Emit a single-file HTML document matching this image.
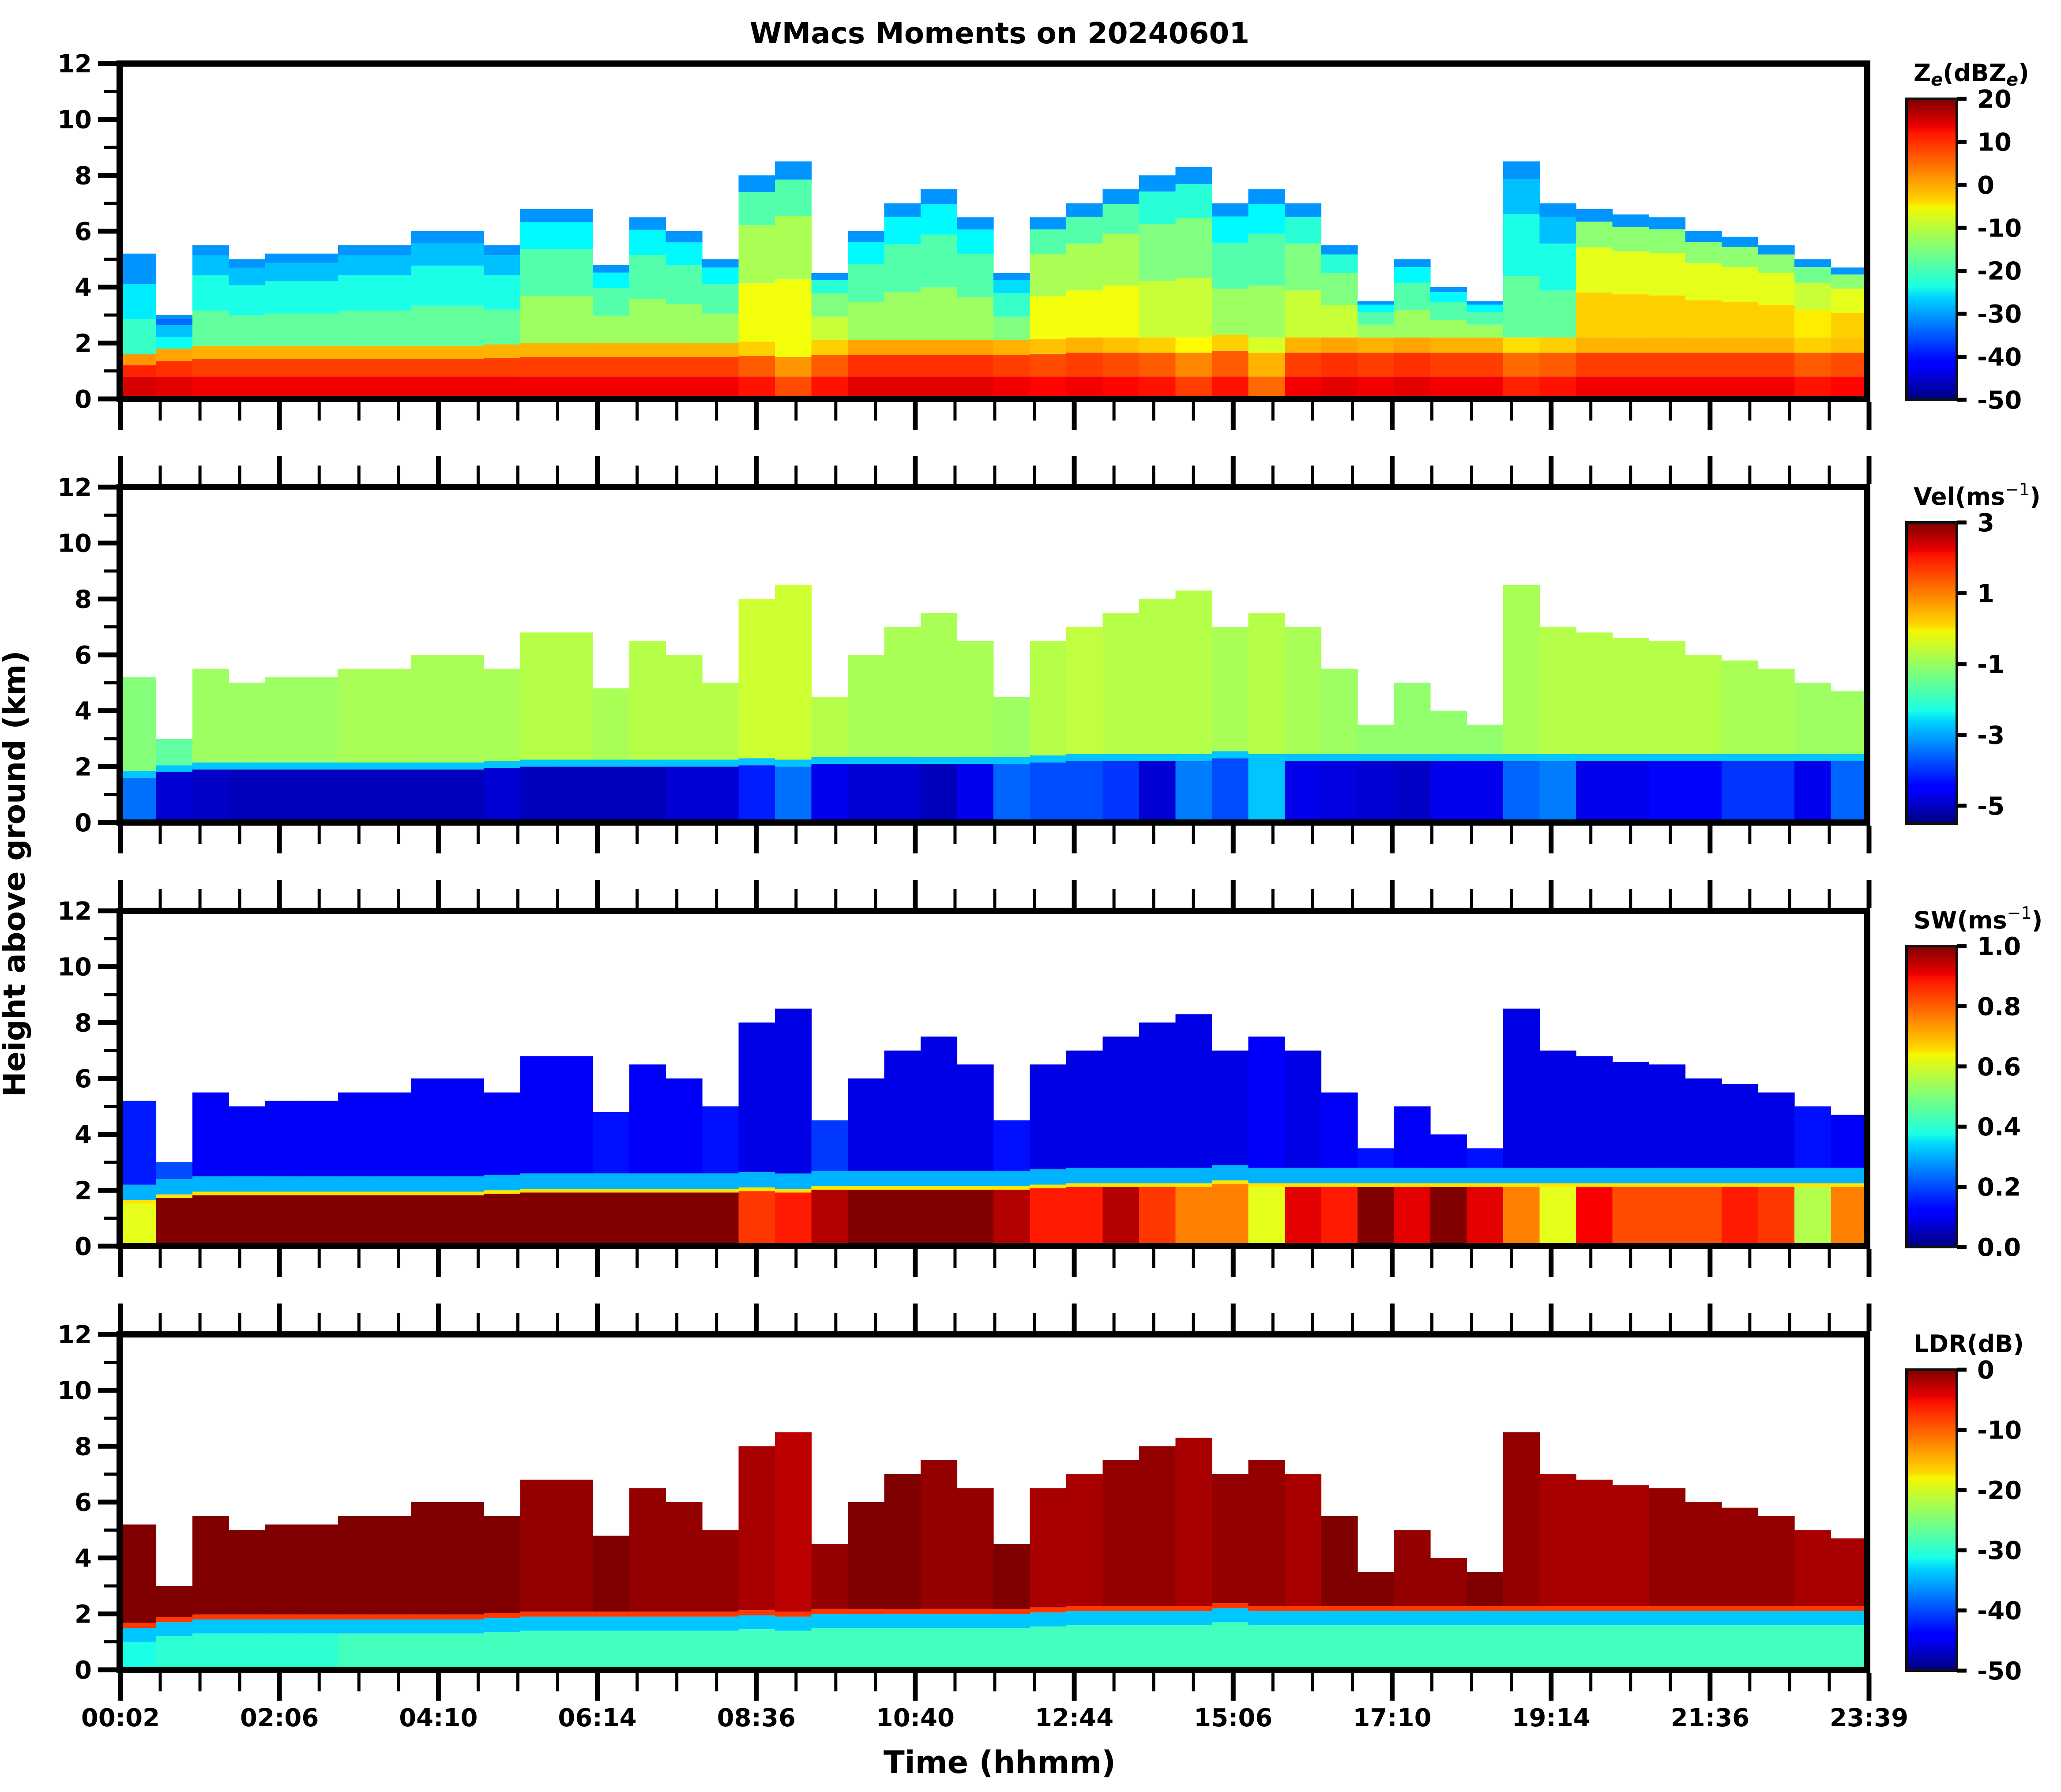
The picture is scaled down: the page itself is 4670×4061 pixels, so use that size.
<!DOCTYPE html>
<html><head><meta charset="utf-8">
<style>
html,body{margin:0;padding:0;background:#fff;}
body{width:4670px;height:4056px;overflow:hidden;}
svg text{font-family:"DejaVu Sans","Liberation Sans",sans-serif;font-weight:bold;fill:#000;}
</style></head>
<body>
<svg id="chart" width="4670" height="4056" viewBox="0 0 4670 4056" xmlns="http://www.w3.org/2000/svg">
<defs>
<linearGradient id="jet" x1="0" y1="1" x2="0" y2="0">
<stop offset="0" stop-color="#00007f"/><stop offset="0.11" stop-color="#0000ff"/>
<stop offset="0.125" stop-color="#0000ff"/><stop offset="0.34" stop-color="#00d4ff"/>
<stop offset="0.375" stop-color="#1affe4"/><stop offset="0.5" stop-color="#7dff7a"/>
<stop offset="0.64" stop-color="#f4f802"/><stop offset="0.66" stop-color="#ffd700"/>
<stop offset="0.89" stop-color="#ff1300"/><stop offset="0.91" stop-color="#e80000"/>
<stop offset="1" stop-color="#7f0000"/>
</linearGradient>
</defs>
<text x="2265" y="98" font-size="66" text-anchor="middle">WMacs Moments on 20240601</text>
<text x="0" y="0" font-size="68" text-anchor="middle" transform="translate(56,1980) rotate(-90)">Height above ground (km)</text>
<text x="2265" y="4018" font-size="70" text-anchor="middle">Time (hhmm)</text>
</svg>
<script>
// ---- data (48 half-hour bins) ----
const xTickLabels = ["00:02","02:06","04:10","06:14","08:36","10:40","12:44","15:06","17:10","19:14","21:36","23:39"];
const yTickLabels = [0,2,4,6,8,10,12];
const cloudTop = [5.2,3.0,5.5,5.0,5.2,5.2,5.5,5.5,6.0,6.0,5.5,6.8,6.8,4.8,6.5,6.0,5.0,8.0,8.5,4.5,6.0,7.0,7.5,6.5,4.5,6.5,7.0,7.5,8.0,8.3,7.0,7.5,7.0,5.5,3.5,5.0,4.0,3.5,8.5,7.0,6.8,6.6,6.5,6.0,5.8,5.5,5.0,4.7];
const blTop = [1.6,1.8,1.9,1.9,1.9,1.9,1.9,1.9,1.9,1.9,1.95,2.0,2.0,2.0,2.0,2.0,2.0,2.05,2.0,2.1,2.1,2.1,2.1,2.1,2.1,2.15,2.2,2.2,2.2,2.2,2.3,2.2,2.2,2.2,2.2,2.2,2.2,2.2,2.2,2.2,2.2,2.2,2.2,2.2,2.2,2.2,2.2,2.2];
const zeCloud = [-25,-28,-22,-22,-22,-22,-22,-22,-22,-22,-22,-18,-18,-18,-18,-18,-18,-12,-12,-15,-18,-18,-18,-18,-20,-12,-12,-12,-15,-15,-18,-18,-15,-15,-18,-18,-18,-18,-22,-22,-8,-8,-8,-8,-8,-8,-10,-8];
const zeBL = [10,9,8,8,8,8,8,8,8,8,8,8,8,8,8,8,8,6,2,6,9,9,9,9,8,7,8,7,6,3,6,0,8,9,8,9,8,8,5,6,8,8,8,8,8,8,6,7];
const velCloud = [-1.2,-1.5,-1.0,-1.0,-1.0,-1.0,-0.9,-0.9,-0.9,-0.9,-0.9,-0.8,-0.8,-0.9,-0.8,-0.8,-0.8,-0.6,-0.6,-0.8,-0.9,-0.9,-0.9,-0.9,-1.0,-0.8,-0.7,-0.8,-0.8,-0.8,-0.9,-0.8,-0.9,-1.0,-1.1,-1.1,-1.1,-1.1,-0.9,-0.8,-0.8,-0.8,-0.8,-0.8,-0.9,-0.9,-1.0,-1.0];
const velBL = [-3.5,-4.8,-4.9,-5.0,-5.0,-5.0,-5.0,-5.0,-5.0,-5.0,-4.8,-5.0,-5.0,-5.0,-5.0,-4.8,-4.8,-4.2,-3.5,-4.6,-4.8,-4.8,-5.0,-4.6,-3.6,-3.8,-3.8,-4.0,-4.8,-3.4,-3.8,-2.8,-4.6,-4.7,-4.8,-4.9,-4.6,-4.6,-3.6,-3.4,-4.6,-4.6,-4.4,-4.4,-4.0,-4.0,-4.6,-3.6];
const swCloud = [0.15,0.2,0.12,0.12,0.12,0.12,0.12,0.12,0.12,0.12,0.12,0.12,0.12,0.14,0.12,0.12,0.14,0.1,0.1,0.18,0.1,0.1,0.1,0.1,0.14,0.1,0.1,0.1,0.1,0.1,0.1,0.12,0.1,0.12,0.14,0.12,0.12,0.14,0.1,0.1,0.1,0.1,0.1,0.1,0.1,0.1,0.14,0.12];
const swBL = [0.6,1.0,1.0,1.0,1.0,1.0,1.0,1.0,1.0,1.0,1.0,1.0,1.0,1.0,1.0,1.0,1.0,0.82,0.85,0.95,1.0,1.0,1.0,1.0,0.95,0.85,0.85,0.95,0.82,0.75,0.75,0.6,0.9,0.85,1.0,0.9,1.0,0.9,0.75,0.6,0.88,0.8,0.8,0.8,0.85,0.82,0.55,0.75];
const ldrCloud = [0,0,0,0,0,0,0,0,0,0,0,-1,-1,0,-1,-1,-1,-2,-3,-1,0,0,-1,-1,0,-2,-2,-1,-1,-2,-1,-1,-2,0,0,-1,-1,0,-1,-2,-2,-2,-1,-1,-1,-1,-2,-2];
const ldrBL = [-30,-29,-29,-29,-29,-29,-28,-28,-28,-28,-28,-28,-28,-28,-28,-28,-28,-28,-28,-28,-28,-28,-28,-28,-28,-28,-28,-28,-28,-28,-28,-28,-28,-28,-28,-28,-28,-28,-28,-28,-28,-28,-28,-28,-28,-28,-28,-28];

// ---- layout ----
const svg = document.getElementById('chart');
const NS = 'http://www.w3.org/2000/svg';
const X0 = 271, X1 = 4231, PH = 760, panelTops = [144,1104,2064,3024];
const CBX0 = 4320, CBX1 = 4434;
function xScale(h){ return X0 + (h/24)*(X1-X0); }
function yScale(top, km){ return top + PH - km/12*PH; }
function jet(t){
  t=Math.max(0,Math.min(1,t));
  const r=Math.max(0,Math.min(1,1.5-Math.abs(4*t-3)));
  const g=Math.max(0,Math.min(1,1.5-Math.abs(4*t-2)));
  const b=Math.max(0,Math.min(1,1.5-Math.abs(4*t-1)));
  return 'rgb('+Math.round(r*255)+','+Math.round(g*255)+','+Math.round(b*255)+')';
}
function mk(tag, attrs, parent){
  const e=document.createElementNS(NS,tag);
  for(const k in attrs) e.setAttribute(k,attrs[k]);
  (parent||svg).appendChild(e); return e;
}

const panels = [
 {key:'ze', vmin:-50, vmax:20, cloud:zeCloud, bl:zeBL, ticks:[20,10,0,-10,-20,-30,-40,-50], tfmt:v=>String(v), label:'Z<tspan font-style="italic" font-size="40" dy="10">e</tspan><tspan dy="-10">(dBZ</tspan><tspan font-style="italic" font-size="40" dy="10">e</tspan><tspan dy="-10">)</tspan>'},
 {key:'vel', vmin:-5.5, vmax:3, cloud:velCloud, bl:velBL, ticks:[3,1,-1,-3,-5], tfmt:v=>String(v), label:'Vel(ms<tspan font-size="38" font-weight="normal" dy="-22">−1</tspan><tspan dy="22">)</tspan>'},
 {key:'sw', vmin:0, vmax:1, cloud:swCloud, bl:swBL, ticks:[1.0,0.8,0.6,0.4,0.2,0.0], tfmt:v=>v.toFixed(1), label:'SW(ms<tspan font-size="38" font-weight="normal" dy="-22">−1</tspan><tspan dy="22">)</tspan>'},
 {key:'ldr', vmin:-50, vmax:0, cloud:ldrCloud, bl:ldrBL, ticks:[0,-10,-20,-30,-40,-50], tfmt:v=>String(v), label:'LDR(dB)'}
];

panels.forEach((p,pi)=>{
  const top = panelTops[pi];
  const g = mk('g',{});
  
  
  const norm = v => (v-p.vmin)/(p.vmax-p.vmin);
  const n = cloudTop.length;
  for(let i=0;i<n;i++){
    const xa = xScale(i*24/n), xb = xScale((i+1)*24/n)+0.6;
    const bl = blTop[i], ct = cloudTop[i];
    let layers;
    if(p.key==='ze'){
      layers=[[0,0.8,p.bl[i]+4],[0.8,bl*0.75,p.bl[i]-1],[bl*0.75,bl,p.bl[i]-9],
              [bl,bl+(ct-bl)*0.35,p.cloud[i]+5],[bl+(ct-bl)*0.35,ct-(ct-bl)*0.3,p.cloud[i]],[ct-(ct-bl)*0.3,ct-(ct-bl)*0.1,p.cloud[i]-6],[ct-(ct-bl)*0.1,ct,-31]];
    } else if(p.key==='vel'){
      layers=[[0,bl,p.bl[i]],[bl,bl+0.25,-2.8],[bl+0.25,ct,p.cloud[i]]];
    } else if(p.key==='sw'){
      layers=[[0,bl-0.08,p.bl[i]],[bl-0.08,bl+0.05,0.65],[bl+0.05,bl+0.6,0.3],[bl+0.6,ct,p.cloud[i]]];
    } else {
      layers=[[0,bl-0.6,p.bl[i]],[bl-0.6,bl-0.1,-34],[bl-0.1,bl+0.08,-9],[bl+0.08,ct,p.cloud[i]]];
    }
    layers.forEach(L=>{
      if(L[1]<=L[0]) return;
      const r = mk('rect',{x:xa.toFixed(1), y:yScale(top,L[1]).toFixed(1), width:(xb-xa).toFixed(1), height:(yScale(top,L[0])-yScale(top,L[1])).toFixed(1), fill:jet(norm(L[2]))}, g);
      
      
    });
  }
  const fr = mk('rect',{x:X0, y:top, width:X1-X0, height:PH, fill:'none', stroke:'#000', 'stroke-width':14});
  
  
  for(let k=0;k<=12;k++){
    const y=yScale(top,k), major=k%2===0;
    const t = mk('line',{x1:X0, x2:X0-(major?49:35), y1:y, y2:y, stroke:'#000', 'stroke-width':major?11:7});
    
    
  }
  yTickLabels.forEach(v=>{
    const t = mk('text',{x:208, y:yScale(top,v)+20, 'font-size':56, 'text-anchor':'end'});
    t.textContent=v;
    
    
  });
  const span = (X1+2-X0)/11;
  for(let k=0;k<=44;k++){
    const x = X0+2+k*span/4, major=k%4===0, len=major?63:42;
    const b = mk('line',{x1:x, x2:x, y1:top+PH+7, y2:top+PH+7+len, stroke:'#000', 'stroke-width':major?11:7});
    
    
    if(pi>0){
      const tt = mk('line',{x1:x, x2:x, y1:top-7, y2:top-7-len, stroke:'#000', 'stroke-width':major?11:7});
      
      
    }
  }
  if(pi===3){
    xTickLabels.forEach((s,k)=>{
      const t = mk('text',{x:X0+2+k*span, y:top+PH+128, 'font-size':56, 'text-anchor':'middle'});
      t.textContent=s;
      
      
    });
  }
  const cbTop = top+80, cbBot = top+PH+2;
  const cb = mk('rect',{x:CBX0, y:cbTop, width:CBX1-CBX0, height:cbBot-cbTop, fill:'url(#jet)', stroke:'#111', 'stroke-width':6});
  
  
  p.ticks.forEach(v=>{
    const y = cbBot - (v-p.vmin)/(p.vmax-p.vmin)*(cbBot-cbTop);
    const l = mk('line',{x1:CBX1, x2:CBX1+22, y1:y, y2:y, stroke:'#000', 'stroke-width':9});
    
    
    const t = mk('text',{x:4480, y:y+20, 'font-size':56});
    t.textContent = p.tfmt(v);
    
    
  });
  const lab = mk('text',{x:4336, y:top+40, 'font-size':54});
  lab.innerHTML = p.label;
  
  
});
</script>
</body></html>
